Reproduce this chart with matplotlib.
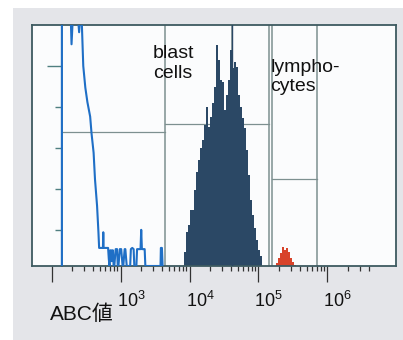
import numpy as np
import matplotlib
matplotlib.use('Agg')
import matplotlib.pyplot as plt
from matplotlib.patches import Rectangle
import matplotlib.transforms as mtransforms

plt.rcParams['font.family'] = ['Liberation Sans', 'Noto Sans CJK JP']
plt.rcParams['mathtext.fontset'] = 'custom'
plt.rcParams['mathtext.rm'] = 'Liberation Sans'

# log10(ABC) / relative count (0-100)
ctrl_logx = [2.15, 2.15, 2.27, 2.29, 2.32, 2.37, 2.40, 2.42, 2.44, 2.46, 2.49, 2.52,
             2.56, 2.58, 2.61, 2.63, 2.66, 2.68, 2.69, 2.745, 2.75, 2.755, 2.82, 2.83,
             2.84, 2.85, 2.86, 2.87, 2.88, 2.89, 2.90, 2.91, 2.93, 2.95, 2.96,
             2.97, 2.99, 3.01, 3.03, 3.04, 3.06, 3.07, 3.09, 3.10,
             3.14, 3.15, 3.17, 3.19, 3.20, 3.23, 3.24, 3.26, 3.29, 3.30, 3.31,
             3.33, 3.35, 3.36, 3.38, 3.39, 3.58, 3.585, 3.60, 3.61]
ctrl_cnt = [0, 115, 112, 92, 110, 108, 97, 105, 100, 83, 74, 68,
            62, 55, 47, 36, 25, 14, 7.5, 7.5, 14, 7.5, 7.5, 3,
            0, 6.5, 6.5, 2, 6.5, 6.5, 0, 0, 7, 7, 0,
            0, 7, 7, 0, 0, 7, 7, 0, 0,
            0, 7, 7.5, 7, 0, 0, 7, 7, 7, 15, 7,
            7, 7, 0, 0, 0, 0, 7.5, 7.5, 0]

blast_start = 3.920
blast_step = 0.029
blast_cnt = [5.8, 14.1, 17.0, 23.2, 23.2, 31.5, 39.0, 44.0, 49.0, 52.3, 58.5, 66.0,
             57.7, 61.8, 67.6, 74.3, 91.7, 85.5, 77.2, 76.3, 64.7, 71.0, 77.2, 89.6,
             82.2, 84.6, 82.6, 71.0, 66.0, 61.4, 57.3, 48.1, 37.8, 27.4, 21.2, 15.8,
             10.8, 6.6, 4.1]

lymph_start = 5.254
lymph_step = 0.029
lymph_cnt = [1.2, 3.3, 5.4, 7.9, 6.6, 7.5, 5.8, 3.3, 1.7, 0.4]

# gates: (log x from, log x to, level)
gate_h = [(2.152, 3.645, 55.6), (3.645, 5.152, 58.9), (5.196, 5.848, 36.1)]
gate_v = [3.645, 4.616, 5.152, 5.196, 5.848]

xlabels = [3, 4, 5, 6]
ytick_major = [83]
ytick_minor = [15, 32, 49, 66]

W, H = 403, 340
fig = plt.figure(figsize=(W / 100, H / 100), dpi=100)
fig.patch.set_facecolor('white')
fig.patches.append(Rectangle((13 / W, 0), 1, (H - 8) / H, transform=fig.transFigure,
                             facecolor='#e4e5e9', edgecolor='none', zorder=-5))

ax = fig.add_axes([32 / W, (H - 266) / H, (396 - 32) / W, (266 - 25) / H])
ax.set_facecolor('#fbfcfd')
ax.set_xscale('log')
ax.set_xlim(10 ** 1.717, 10 ** 6.993)
ax.set_ylim(0, 100)

frame = '#3d5a60'
for s in ['top', 'right', 'bottom']:
    ax.spines[s].set_color(frame)
    ax.spines[s].set_linewidth(1.3)
ax.plot([0, 0], [0, 1], transform=ax.transAxes, color=frame, lw=1.3, clip_on=False)

x0 = 10 ** 2.152
ax.spines['left'].set_position(('data', x0))
ax.spines['left'].set_color('#3a7aa0')
ax.spines['left'].set_linewidth(1.2)

# gates
gcol = '#7d9090'
for a, b, lev in gate_h:
    ax.plot([10 ** a, 10 ** b], [lev, lev], color=gcol, lw=0.9, zorder=1)
for v in gate_v:
    ax.axvline(10 ** v, color=gcol, lw=1.1, zorder=1)
ax.axvline(10 ** gate_v[1], color='#2b4865', lw=1.0, zorder=3)

# histograms
edges = 10 ** (blast_start + blast_step * np.arange(len(blast_cnt) + 1))
ax.stairs(blast_cnt, edges, fill=True, color='#2b4865', zorder=2)
edges = 10 ** (lymph_start + lymph_step * np.arange(len(lymph_cnt) + 1))
ax.stairs(lymph_cnt, edges, fill=True, color='#d8432a', zorder=2)

ax.plot(10 ** np.array(ctrl_logx), ctrl_cnt, color='#1f6fc6', lw=1.5, zorder=4)

# ticks
ax.set_xticks([10.0 ** k for k in range(2, 7)])
ax.set_xticks([m * 10.0 ** k for k in range(2, 6) for m in range(2, 10)] + [2e6, 3e6, 4e6], minor=True)
ax.set_xticklabels([])
ax.set_xticklabels([], minor=True)
ax.tick_params(axis='x', which='major', direction='out', length=11.5, width=0.9, color='#333333')
ax.tick_params(axis='x', which='minor', direction='out', length=3.8, width=0.9, color='#333333')
ax.set_yticks(ytick_major)
ax.set_yticks(ytick_minor, minor=True)
ax.set_yticklabels([])
ax.tick_params(axis='y', which='major', direction='out', length=11, width=1.0, color='#4f7f80')
ax.tick_params(axis='y', which='minor', direction='out', length=5, width=1.0, color='#4f7f80')

tr = mtransforms.blended_transform_factory(ax.transData, ax.transAxes)
off = mtransforms.ScaledTranslation(-4 / 100, 0, fig.dpi_scale_trans)
for k in xlabels:
    ax.text(10.0 ** k, -0.170, r'$\mathregular{10^{%d}}$' % k, transform=tr + off,
            ha='left', va='baseline', fontsize=13, color='#111111')

ax.text(10 ** 3.472, 91.5, 'blast\ncells', ha='left', va='top', fontsize=14,
        linespacing=1.2, color='#111111', zorder=5)
ax.text(10 ** 5.170, 86.0, 'lympho-\ncytes', ha='left', va='top', fontsize=14,
        linespacing=1.2, color='#111111', zorder=5)

fig.text(50 / W, 1 - 320 / H, 'ABC値', ha='left', va='baseline', fontsize=15, color='#111111')

fig.savefig('out.png', dpi=100)
